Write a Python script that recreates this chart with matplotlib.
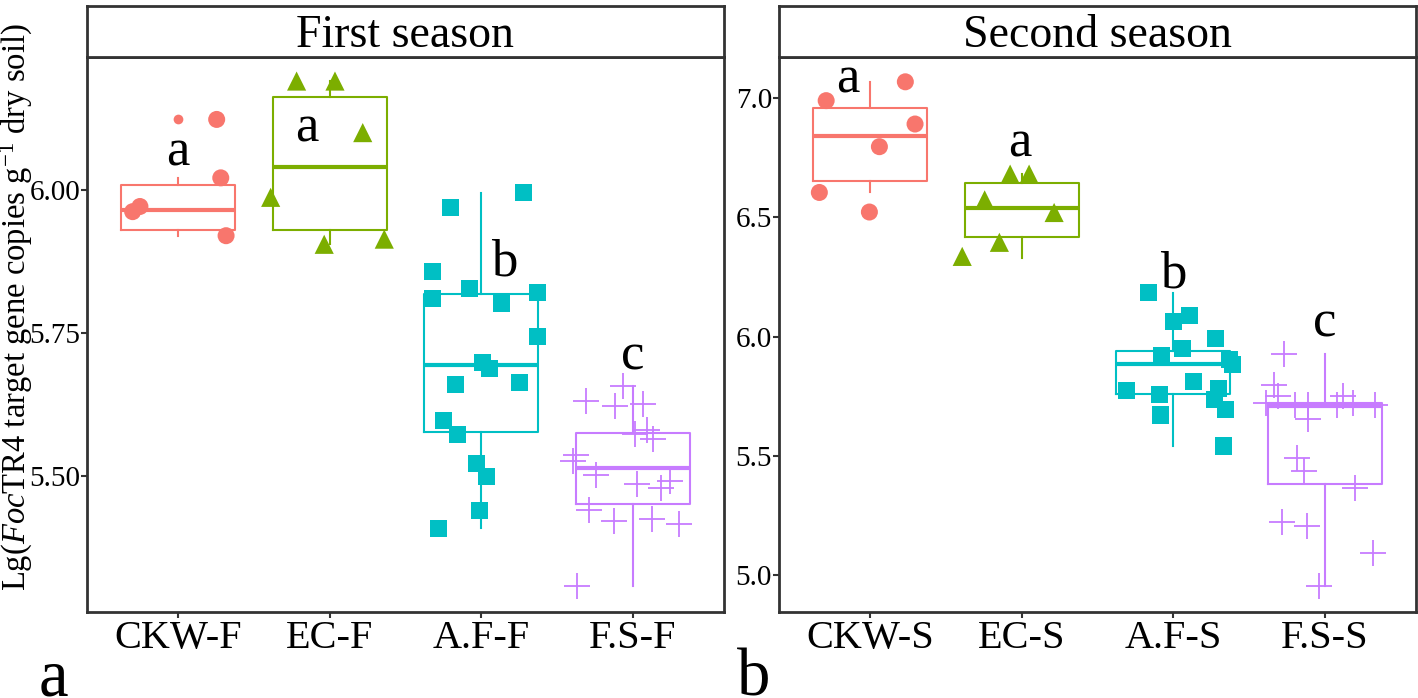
"""Foc TR4 abundance by treatment, first vs second season (box + jitter, two facets)."""
import matplotlib
matplotlib.use("Agg")
import matplotlib.pyplot as plt

plt.rcParams["font.family"] = ["Liberation Serif", "DejaVu Serif"]
plt.rcParams["mathtext.fontset"] = "custom"
plt.rcParams["mathtext.rm"] = "Liberation Serif"
plt.rcParams["mathtext.it"] = "Liberation Serif:italic"

first_groups = ["CKW-F", "EC-F", "A.F-F", "F.S-F"]
second_groups = ["CKW-S", "EC-S", "A.F-S", "F.S-S"]
group_colors = ["#F8766D", "#7CAE00", "#00BFC4", "#C77CFF"]
group_markers = ["o", "^", "s", "+"]

# jittered observations: horizontal jitter (category units) and log10 copies
first_dx = [
    [0.255, 0.282, -0.299, -0.251, 0.317],
    [-0.218, 0.035, 0.218, -0.389, -0.036, 0.360],
    [-0.202, 0.277, -0.321, -0.323, -0.079, 0.130, 0.369, 0.369, 0.009,
     0.053, -0.172, 0.249, -0.251, -0.158, -0.030, 0.031, -0.015, -0.281],
    [-0.064, -0.312, -0.117, 0.068, 0.090, 0.013, 0.134, -0.378, -0.394,
     -0.244, 0.024, 0.244, 0.185, -0.290, -0.127, 0.127, 0.303, -0.371],
]
first_y = [
    [6.123, 6.021, 5.962, 5.971, 5.920],
    [6.190, 6.190, 6.100, 5.987, 5.905, 5.914],
    [5.969, 5.995, 5.858, 5.810, 5.827, 5.801, 5.820, 5.744, 5.698,
     5.689, 5.660, 5.664, 5.598, 5.573, 5.523, 5.499, 5.441, 5.408],
    [5.657, 5.632, 5.623, 5.627, 5.580, 5.574, 5.565, 5.537, 5.526,
     5.502, 5.486, 5.491, 5.480, 5.441, 5.422, 5.425, 5.416, 5.308],
]
second_dx = [
    [0.233, -0.289, 0.297, 0.062, -0.334, -0.004],
    [-0.392, -0.147, -0.244, -0.076, 0.049, 0.214],
    [-0.163, 0.000, 0.105, 0.275, 0.061, -0.077, 0.369, 0.391, 0.134,
     -0.312, -0.088, 0.297, 0.270, 0.347, -0.086, 0.330],
    [-0.268, -0.338, -0.312, -0.389, -0.197, -0.114, 0.121, 0.077, 0.187,
     0.330, -0.114, -0.187, -0.140, 0.200, -0.286, -0.118, 0.314, -0.042],
]
second_y = [
    [7.068, 6.989, 6.891, 6.796, 6.604, 6.522],
    [6.336, 6.395, 6.573, 6.681, 6.681, 6.520],
    [6.183, 6.064, 6.089, 5.991, 5.949, 5.921, 5.904, 5.883, 5.813,
     5.774, 5.755, 5.781, 5.736, 5.695, 5.671, 5.541],
    [5.928, 5.796, 5.750, 5.723, 5.715, 5.713, 5.750, 5.713, 5.723,
     5.713, 5.653, 5.492, 5.436, 5.364, 5.223, 5.206, 5.092, 4.955],
]

# box statistics as drawn (ggplot geom_boxplot)
first_q1 = [5.930, 5.930, 5.578, 5.451]
first_med = [5.965, 6.040, 5.695, 5.514]
first_q3 = [6.009, 6.163, 5.818, 5.575]
first_lo = [5.920, 5.905, 5.409, 5.308]
first_hi = [6.021, 6.190, 5.995, 5.657]
first_out = [[6.123], [], [], []]
second_q1 = [6.653, 6.416, 5.760, 5.381]
second_med = [6.842, 6.538, 5.883, 5.708]
second_q3 = [6.959, 6.643, 5.941, 5.720]
second_lo = [6.604, 6.330, 5.541, 4.955]
second_hi = [7.066, 6.681, 6.183, 5.928]
second_out = [[6.522], [], [], []]

# significance letters
first_letters = ["a", "a", "b", "c"]
first_letter_dx = [0.0, -0.152, 0.15, 0.0]
first_letter_y = [6.042, 6.085, 5.850, 5.686]
second_letters = ["a", "a", "b", "c"]
second_letter_dx = [-0.147, -0.01, 0.0, 0.0]
second_letter_y = [7.024, 6.754, 6.204, 5.999]

W, H = 1418, 698
EDGE = "#333333"
fig = plt.figure(figsize=(W / 100, H / 100), dpi=100)


def px_axes(x0, y0, x1, y1):
    return fig.add_axes([x0 / W, 1 - y1 / H, (x1 - x0) / W, (y1 - y0) / H])


def frame(ax):
    for s in ax.spines.values():
        s.set_color(EDGE)
        s.set_linewidth(2.0)


def panel(ax, strip, title, groups, dx, ys, q1, med, q3, lo, hi, out,
          letters, letter_dx, letter_y, ylim, yticks, fmt):
    pos = list(range(1, len(groups) + 1))
    for i, c in enumerate(group_colors):
        st = [dict(q1=q1[i], med=med[i], q3=q3[i], whislo=lo[i], whishi=hi[i],
                   fliers=out[i])]
        ax.bxp(st, positions=[pos[i]], widths=0.75, showcaps=False, showfliers=True,
               boxprops=dict(color=c, lw=1.5), whiskerprops=dict(color=c, lw=1.5),
               medianprops=dict(color=c, lw=3.0),
               flierprops=dict(marker="o", markersize=7, markerfacecolor=c,
                               markeredgecolor="none"),
               zorder=2)
        xs = [pos[i] + d for d in dx[i]]
        if group_markers[i] == "+":
            ax.scatter(xs, ys[i], marker="+", s=330, color=c, linewidths=1.3, zorder=3)
        else:
            s = 190 if group_markers[i] == "^" else 150
            ax.scatter(xs, ys[i], marker=group_markers[i], s=s, color=c,
                       edgecolors="none", zorder=3)
        ax.text(pos[i] + letter_dx[i], letter_y[i], letters[i], fontsize=38,
                ha="center", va="baseline", zorder=4)
    ax.set_xlim(0.4, len(groups) + 0.6)
    ax.set_ylim(*ylim)
    ax.set_xticks(pos)
    ax.set_xticklabels(groups, fontsize=29)
    ax.set_yticks(yticks)
    ax.set_yticklabels([fmt % v for v in yticks], fontsize=21)
    ax.tick_params(axis="both", length=4, width=1.5, color=EDGE, pad=1)
    ax.tick_params(axis="x", pad=2)
    frame(ax)

    strip.set_xticks([]); strip.set_yticks([])
    strip.set_xlim(0, 1); strip.set_ylim(0, 1)
    strip.text(0.5, 0.2, title, fontsize=33, ha="center", va="baseline")
    frame(strip)


axL = px_axes(87, 57, 724, 612)
stL = px_axes(87, 6, 724, 57)
axR = px_axes(779, 57, 1416, 612)
stR = px_axes(779, 6, 1416, 57)

panel(axL, stL, "First season", first_groups, first_dx, first_y, first_q1, first_med,
      first_q3, first_lo, first_hi, first_out, first_letters, first_letter_dx,
      first_letter_y, (5.263, 6.232), [5.50, 5.75, 6.00], "%.2f")
panel(axR, stR, "Second season", second_groups, second_dx, second_y, second_q1,
      second_med, second_q3, second_lo, second_hi, second_out, second_letters,
      second_letter_dx, second_letter_y, (4.845, 7.172), [5.0, 5.5, 6.0, 6.5, 7.0], "%.1f")

fig.text(16.5 / W, 1 - 307 / H, r"Lg($\mathit{Foc}$TR4 target gene copies g$^{-1}$ dry soil)",
         rotation=90, ha="center", va="center", fontsize=23.5)
fig.text(53 / W, 2.5 / H, "a", fontsize=48, ha="center", va="baseline")
fig.text(754 / W, 2.5 / H, "b", fontsize=48, ha="center", va="baseline")

fig.savefig("out.png", dpi=100)
